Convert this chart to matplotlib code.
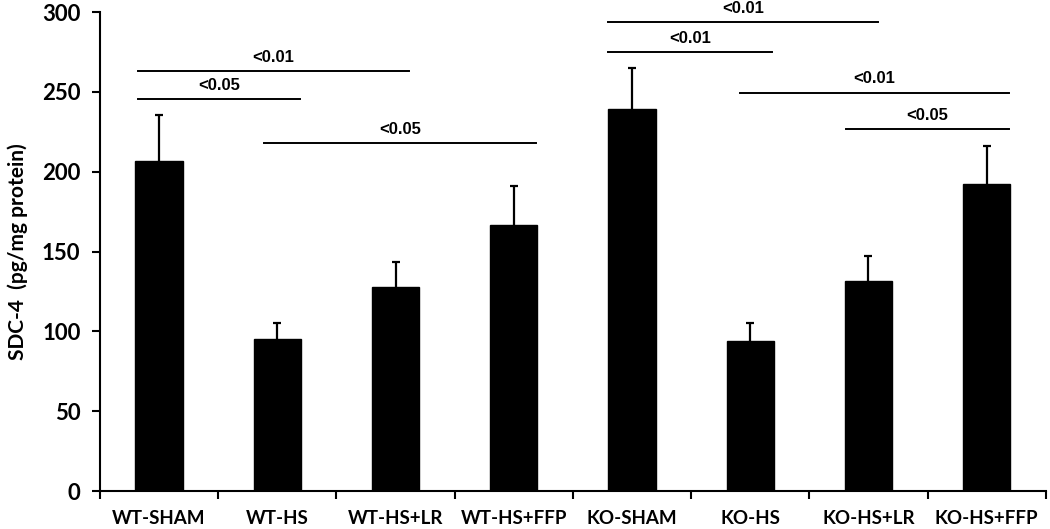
import matplotlib.pyplot as plt
import numpy as np

groups = ["WT-SHAM", "WT-HS", "WT-HS+LR", "WT-HS+FFP",
          "KO-SHAM", "KO-HS", "KO-HS+LR", "KO-HS+FFP"]
means = [206.5, 95, 128, 166.5, 239.5, 94, 131.5, 192.5]
errors = [29, 10, 15.5, 24.5, 25.5, 11, 16, 23.5]

# significance bars: start, end (category units), height, label
sig_start = [-0.18, -0.18, 0.89, 3.80, 3.80, 4.91, 5.81]
sig_end = [1.19, 2.11, 3.19, 6.08, 5.18, 7.19, 7.19]
sig_y = [245.5, 263, 218, 293.5, 275, 249.5, 226.5]
sig_text = ["<0.05", "<0.01", "<0.05", "<0.01", "<0.01", "<0.01", "<0.05"]

# create figure
fig = plt.figure(figsize=(10.5, 5.29), dpi=100)
axes = fig.add_axes([0.0952, 0.0718, 0.9008, 0.9055])

x = np.arange(len(groups))
# symmetric error bars drawn underneath, the lower half is hidden by the bars
axes.errorbar(x, means, yerr=errors, fmt="none", ecolor="black",
              elinewidth=1.6, capsize=3, capthick=1.6, zorder=1)
axes.bar(x, means, width=0.4, color="black", edgecolor="black", zorder=2)

for x0, x1, y, t in zip(sig_start, sig_end, sig_y, sig_text):
    axes.plot([x0, x1], [y, y], color="black", lw=1.4, clip_on=False)
    axes.text((x0 + x1) / 2, y + 4, t, ha="center", va="bottom",
              fontsize=12, fontweight="bold", family="Liberation Sans",
              clip_on=False)

axes.set_xlim(-0.5, 7.5)
axes.set_ylim(0, 300)
axes.set_yticks([0, 50, 100, 150, 200, 250, 300])
axes.set_xticks(x)
axes.set_xticklabels(groups)
axes.set_xticks(np.arange(-0.5, 8, 1), minor=True)
axes.tick_params(axis="x", which="major", length=0, pad=14)
axes.tick_params(axis="x", which="minor", length=6, width=1.5)
axes.tick_params(axis="y", length=6, width=1.5, pad=8)
for lab in axes.get_xticklabels():
    lab.set_fontsize(13.5)
    lab.set_fontweight("bold")
    lab.set_family("Lato")
for lab in axes.get_yticklabels():
    lab.set_fontsize(16)
    lab.set_fontweight("bold")
    lab.set_family("Lato")

axes.spines["top"].set_visible(False)
axes.spines["right"].set_visible(False)
axes.spines["left"].set_linewidth(1.5)
axes.spines["bottom"].set_linewidth(1.5)

axes.set_ylabel("SDC-4  (pg/mg protein)", fontsize=15, fontweight="bold",
                family="Lato", labelpad=10)

fig.savefig("out.png", dpi=100)
